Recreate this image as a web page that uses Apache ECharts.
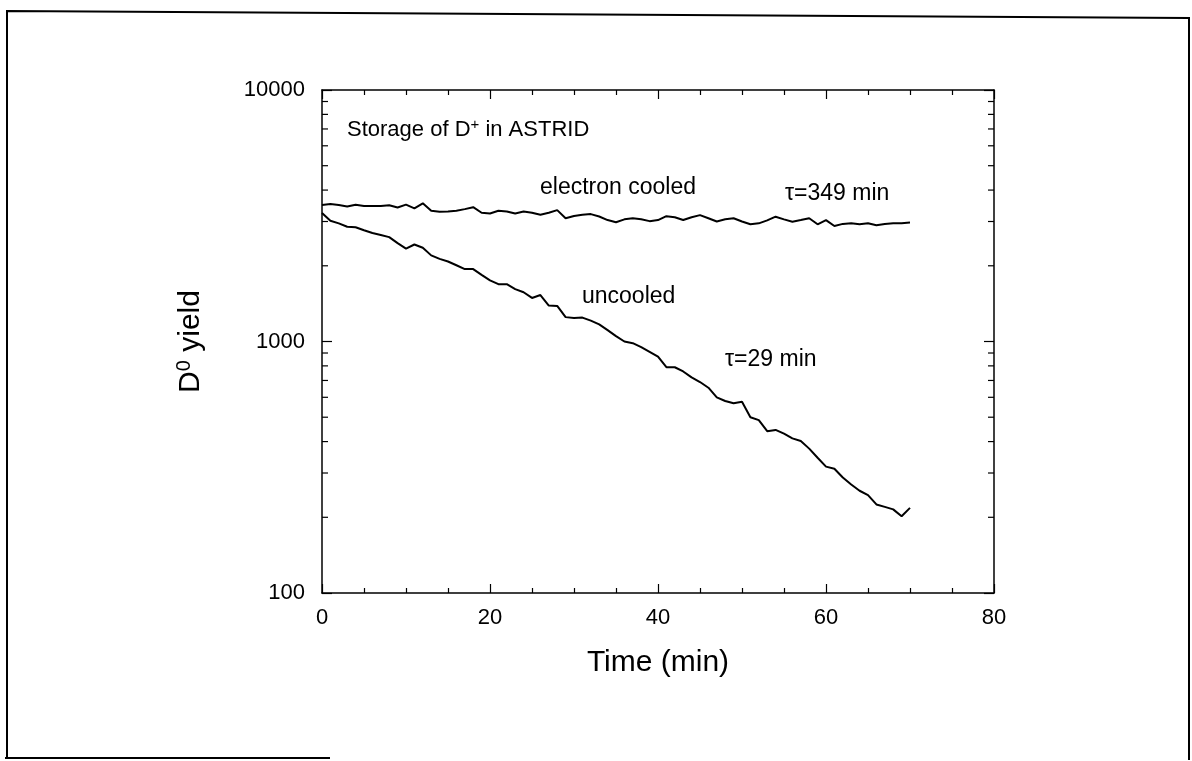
<!DOCTYPE html>
<html>
<head>
<meta charset="utf-8">
<script src="https://cdn.jsdelivr.net/npm/echarts@6/dist/echarts.min.js"></script>
<style>html,body{margin:0;padding:0;background:#fff}#c{width:1192px;height:761px}</style>
</head>
<body>
<div id="c"></div>
<script>
// ---- data ----
const timeMin = [0,1,2,3,4,5,6,7,8,9,10,11,12,13,14,15,16,17,18,19,20,21,22,23,24,25,26,27,28,29,30,31,32,33,34,35,36,37,38,39,40,41,42,43,44,45,46,47,48,49,50,51,52,53,54,55,56,57,58,59,60,61,62,63,64,65,66,67,68,69,70];
const cooledYield = [3490,3520,3490,3440,3500,3460,3460,3460,3480,3410,3500,3385,3545,3310,3280,3290,3310,3360,3420,3250,3230,3310,3290,3230,3290,3250,3190,3250,3330,3090,3155,3190,3210,3140,3040,2980,3060,3090,3060,3010,3040,3150,3120,3040,3120,3180,3090,3000,3060,3090,3000,2925,2950,3030,3135,3060,2995,3040,3090,2925,3040,2880,2935,2950,2925,2950,2900,2930,2950,2950,2970];
const uncooledYield = [3245,3020,2950,2860,2845,2770,2700,2650,2600,2460,2340,2430,2360,2200,2130,2080,2010,1940,1940,1840,1750,1690,1690,1615,1570,1490,1530,1390,1385,1250,1240,1245,1210,1170,1110,1050,1000,985,950,910,870,790,790,760,720,690,655,600,580,568,576,500,487,440,445,430,412,402,375,345,318,312,288,270,255,245,225,220,215,202,218];
const xTicks = [0,20,40,60,80];
const yTicks = [100,1000,10000];
const yMinorTicks = [200,300,400,500,600,700,800,900,2000,3000,4000,5000,6000,7000,8000,9000];

const FONT = 'Liberation Sans';
const chart = echarts.init(document.getElementById('c'), null, {renderer:'canvas'});

const zip = (xs, ys) => xs.map((x,i)=>[x, ys[i]]);
const lineStyleAxis = {color:'#000', width:1.5};
const annStyle = {fontFamily:FONT, fontSize:23, fill:'#000', verticalAlign:'middle', align:'left'};

chart.setOption({
  animation:false,
  backgroundColor:'#fff',
  grid:{left:322, top:90, width:672, height:503, containLabel:false},
  xAxis:[{
    type:'value', min:xTicks[0], max:xTicks[xTicks.length-1], interval:20,
    axisLine:{show:true, onZero:false, lineStyle:lineStyleAxis},
    axisTick:{show:true, inside:true, length:9, lineStyle:{color:'#000', width:1.2}},
    minorTick:{show:true, splitNumber:4, length:5, lineStyle:{color:'#000', width:1.2}},
    splitLine:{show:false},
    axisLabel:{fontFamily:FONT, fontSize:22, color:'#000', margin:14},
    name:'Time (min)', nameLocation:'middle', nameGap:55,
    nameTextStyle:{fontFamily:FONT, fontSize:30, color:'#000'}
  },{
    type:'value', position:'top', min:0, max:80, interval:20,
    axisLine:{show:true, onZero:false, lineStyle:lineStyleAxis},
    axisTick:{show:true, inside:true, length:9, lineStyle:{color:'#000', width:1.2}},
    minorTick:{show:true, splitNumber:4, length:5, lineStyle:{color:'#000', width:1.2}},
    splitLine:{show:false}, axisLabel:{show:false}
  }],
  yAxis:[{
    type:'log', logBase:10, min:yTicks[0], max:yTicks[yTicks.length-1],
    axisLine:{show:true, onZero:false, lineStyle:lineStyleAxis},
    axisTick:{show:true, inside:true, length:10, lineStyle:{color:'#000', width:1.2}},
    splitLine:{show:false},
    axisLabel:{fontFamily:FONT, fontSize:22, color:'#000', margin:17,
      formatter:v=>String(Math.round(v))},
    name:'{m|D}{s|0}{m| yield}', nameLocation:'middle', nameGap:114, nameRotate:90,
    nameTextStyle:{rich:{
      m:{fontFamily:FONT, fontSize:30, color:'#000'},
      s:{fontFamily:FONT, fontSize:20, color:'#000', padding:[0,0,14,0]}
    }}
  },{
    type:'log', logBase:10, position:'right', min:100, max:10000,
    axisLine:{show:true, onZero:false, lineStyle:lineStyleAxis},
    axisTick:{show:true, inside:true, length:10, lineStyle:{color:'#000', width:1.2}},
    splitLine:{show:false}, axisLabel:{show:false}
  }],
  series:[{
    name:'electron cooled', type:'line', xAxisIndex:0, yAxisIndex:0,
    data:zip(timeMin, cooledYield), showSymbol:false, symbol:'none',
    lineStyle:{color:'#000', width:2}
  },{
    name:'uncooled', type:'line', xAxisIndex:0, yAxisIndex:0,
    data:zip(timeMin, uncooledYield), showSymbol:false, symbol:'none',
    lineStyle:{color:'#000', width:2}
  },{
    name:'minor ticks', type:'custom', xAxisIndex:0, yAxisIndex:0, silent:true,
    data:yMinorTicks.map(v=>[0,v]),
    renderItem:(params, api)=>{
      const v = api.value(1);
      const a = api.coord([0, v]);
      const b = api.coord([80, v]);
      return {type:'group', children:[
        {type:'line', shape:{x1:a[0], y1:a[1], x2:a[0]+6, y2:a[1]}, style:{stroke:'#000', lineWidth:1.2}},
        {type:'line', shape:{x1:b[0]-6, y1:b[1], x2:b[0], y2:b[1]}, style:{stroke:'#000', lineWidth:1.2}}
      ]};
    }
  }],
  graphic:[
    {type:'polyline', shape:{points:[[7,758],[7,11],[1189,18],[1189,760]]}, style:{stroke:'#000', lineWidth:2, fill:null}},
    {type:'line', shape:{x1:5, y1:758, x2:330, y2:758}, style:{stroke:'#000', lineWidth:2}},
    {type:'text', x:347, y:130, style:{text:'{m|Storage of D}{s|+}{m| in ASTRID}', verticalAlign:'middle', align:'left', rich:{
      m:{fontFamily:FONT, fontSize:22, fill:'#000'},
      s:{fontFamily:FONT, fontSize:15, fill:'#000', padding:[0,0,10,0]}
    }}},
    {type:'text', x:540, y:188, style:Object.assign({text:'electron cooled'}, annStyle)},
    {type:'text', x:785, y:194, style:Object.assign({text:'τ=349 min'}, annStyle)},
    {type:'text', x:582, y:297, style:Object.assign({text:'uncooled'}, annStyle)},
    {type:'text', x:725, y:360, style:Object.assign({text:'τ=29 min'}, annStyle)}
  ]
});
</script>
</body>
</html>
